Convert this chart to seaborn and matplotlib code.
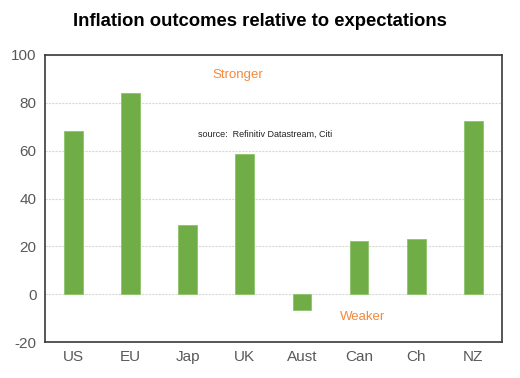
import numpy as np
import pandas as pd
import matplotlib
matplotlib.use('Agg')
import matplotlib.pyplot as plt
import seaborn as sns

# data
negara = ['US', 'EU', 'Jap', 'UK', 'Aust', 'Can', 'Ch', 'NZ']
nilai = [68.3, 84.0, 29.0, 58.4, -6.5, 22.3, 22.9, 72.4]

df = pd.DataFrame({'negara': negara, 'nilai': nilai})

sns.set_style('white')
plt.rcParams['font.family'] = ['Liberation Sans', 'DejaVu Sans']
plt.rcParams['axes.unicode_minus'] = False

fig = plt.figure(figsize=(5.2, 3.78), dpi=100)
ax = fig.add_axes([0.0865, 0.0952, 0.8785, 0.7593])

sns.barplot(data=df, x='negara', y='nilai', color='#70AD47', saturation=1,
            width=0.33, edgecolor='#8CC46A', linewidth=0.6, ax=ax, zorder=3)

ax.set_ylim(-20, 100)
ax.set_xlim(-0.5, 7.5)
ax.set_yticks(range(-20, 101, 20))
ax.yaxis.grid(True, color='#D9D9D9', linestyle=(0, (2, 1)), linewidth=0.8, zorder=0)
ax.set_xlabel('')
ax.set_ylabel('')
ax.tick_params(axis='both', labelsize=11, labelcolor='#595959', length=0, pad=6)
for s in ax.spines.values():
    s.set_color('#3A3A3A')
    s.set_linewidth(1.2)

ax.text(2.87, 91.6, 'Stronger', color='#F28A3C', fontsize=9.5, ha='center', va='center')
ax.text(5.06, -9.6, 'Weaker', color='#F28A3C', fontsize=9.5, ha='center', va='center')
ax.text(3.36, 67, 'source:  Refinitiv Datastream, Citi', color='#222222', fontsize=6.5,
        ha='center', va='center')

fig.suptitle('Inflation outcomes relative to expectations', y=0.965,
             fontsize=13.3, fontweight='bold', color='black')

fig.savefig('out.png', dpi=100)
